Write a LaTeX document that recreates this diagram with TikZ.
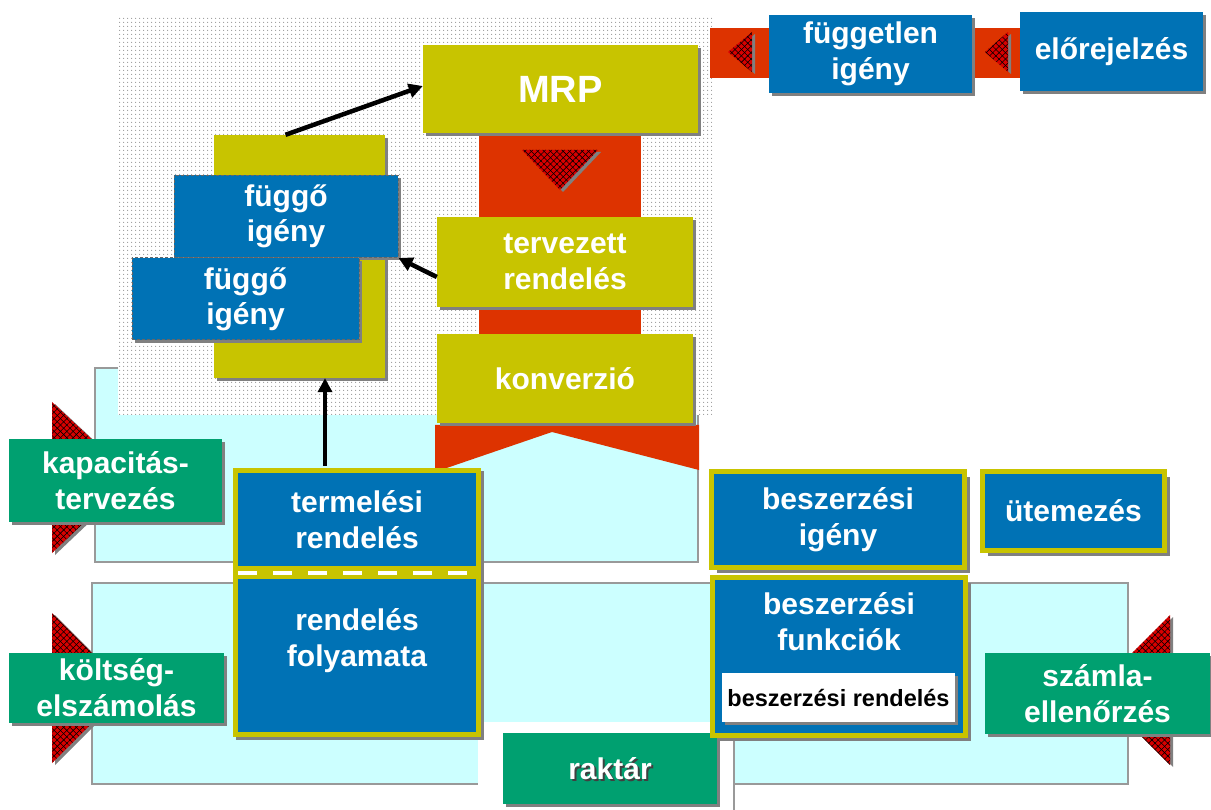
\documentclass[tikz,border=0pt]{standalone}
\usepackage{fontspec}
\setmainfont{Liberation Sans}
\usetikzlibrary{shadows,patterns.meta,arrows.meta}

\definecolor{mblue}{HTML}{0072B5}
\definecolor{molive}{HTML}{C8C400}
\definecolor{mgreen}{HTML}{00A070}
\definecolor{mred}{HTML}{DD3300}
\definecolor{hred}{HTML}{D80000}
\definecolor{lcyan}{HTML}{CCFFFF}
\definecolor{sgray}{HTML}{808080}
\definecolor{bgray}{HTML}{999999}

% hatched triangle with a grey drop shadow
\newcommand{\htri}[3]{%
  \fill[sgray,xshift=3pt,yshift=-2pt] #1 -- #2 -- #3 -- cycle;
  \path[hatch] #1 -- #2 -- #3 -- cycle;}

\begin{document}
\begin{tikzpicture}[x=1pt,y=-1pt,
  lbl/.style={font=\fontsize{30}{36}\selectfont\bfseries, text=white, align=center},
  shd/.style={drop shadow={shadow xshift=3pt,shadow yshift=-3pt,fill=sgray,opacity=1}},
  box/.style={shd, inner sep=0pt, lbl},
  bluebox/.style={box, fill=mblue},
  greenbox/.style={box, fill=mgreen},
  olivebox/.style={box, fill=molive},
  fuggobox/.style={box, fill=mblue, draw=black!60, line width=1pt, dash pattern=on 3pt off 2pt,
    font=\fontsize{30}{35}\selectfont\bfseries},
  framed/.style={inner sep=0pt, lbl, fill=mblue, draw=molive, line width=5pt,
    drop shadow={shadow xshift=5.5pt,shadow yshift=-5.5pt,fill=sgray,opacity=1}},
  plain/.style={inner sep=0pt, fill=mblue},
  hatch/.style={preaction={fill=hred},
    pattern={Lines[angle=45,distance=4.5pt,line width=0.55pt]}, pattern color=black,
    postaction={pattern={Lines[angle=-45,distance=4.5pt,line width=0.55pt]}, pattern color=black}},
  conn/.style={draw=black, line width=4.5pt, -{Triangle[length=14pt,width=14pt]}},
  area/.style={fill=lcyan, draw=bgray, line width=1.5pt}
]
\useasboundingbox (0,0) rectangle (1211,810);
\fill[white] (0,0) rectangle (1211,810);

% light cyan working areas
\path[area] (95,368) rectangle (698,562);
\path[area] (92,583) rectangle (1128,784);
\fill[white] (478,722) rectangle (733,811);
\draw[bgray, line width=1.5pt] (734,722) -- (734,810);

% dotted planning area
\fill[white] (118,18) rectangle (712,415);
\fill[pattern={Dots[radius=0.75pt,distance=4pt]}, pattern color=black!40] (118,18) rectangle (712,415);

% red flow bands
\fill[mred] (710,28) rectangle (1020,78);
\fill[mred] (479,133) rectangle (641,430);
\fill[mred] (435,425) -- (699,425) -- (699,470) -- (552,432) -- (435,472) -- cycle;

% hatched direction triangles
\htri{(752,32)}{(752,72)}{(728,52)}
\htri{(1008,32)}{(1008,72)}{(985,52)}
\htri{(522,150)}{(598,150)}{(560,190)}
\htri{(52,402)}{(52,553)}{(132,477)}
\htri{(52,613)}{(52,763)}{(127,688)}
\htri{(1170,615)}{(1170,765)}{(1095,690)}

% top right: forecast and independent demand
\node[bluebox, minimum width=203, minimum height=78] (fuggetlen) at (870.5,54) {független\\igény};
\node[bluebox, minimum width=183, minimum height=79] (elorejelzes) at (1111.5,51.5) {előrejelzés};

% MRP column
\node[olivebox, minimum width=275, minimum height=88, font=\fontsize{38}{44}\selectfont\bfseries] (mrp) at (560.5,89) {MRP};
\node[olivebox, minimum width=256, minimum height=90] (tervezett) at (565,262) {tervezett\\rendelés};
\node[olivebox, minimum width=256, minimum height=89] (konverzio) at (565,378.5) {konverzió};

% dependent demand stack
\node[olivebox, minimum width=171, minimum height=243] (fuggoback) at (299.5,256.5) {};
\node[fuggobox, minimum width=224, minimum height=82] (fuggo1) at (286,216.5) {függő\\igény};
\node[fuggobox, minimum width=227, minimum height=82] (fuggo2) at (245.5,299) {függő\\igény};

% side functions
\node[greenbox, minimum width=213, minimum height=83] (kapacitas) at (115.5,480.5) {kapacitás-\\tervezés};
\node[greenbox, minimum width=215, minimum height=70] (koltseg) at (116.5,688) {költség-\\elszámolás};
\node[greenbox, minimum width=225, minimum height=81] (szamla) at (1097.5,693.5) {számla-\\ellenőrzés};
\node[greenbox, minimum width=214, minimum height=71] (raktar) at (610,768.5) {};
\node[lbl, text=black!75] (raktarshade) at (612,770.5) {raktár};
\node[lbl] (raktarlbl) at (610,768.5) {raktár};

% production order
\node[olivebox, minimum width=248, minimum height=269] (termframe) at (357,602.5) {};
\node[plain, lbl, minimum width=238, minimum height=93] (termelesi) at (357,519.5) {termelési\\rendelés};
\node[plain, minimum width=238, minimum height=153] (folyamat) at (357,655.5) {};
\node[lbl] (folyamatlbl) at (357,640.5) {rendelés\\folyamata};
\draw[white, line width=4pt, dash pattern=on 19pt off 16pt] (termelesi.south west) ++(0,7) -- ++(238,0);

% purchasing
\node[framed, minimum width=253, minimum height=96] (beszigeny) at (838,519.5) {beszerzési\\igény};
\node[framed, minimum width=182, minimum height=79] (utemezes) at (1073.5,511) {ütemezés};
\node[framed, minimum width=253, minimum height=158] (beszfunk) at (839,656.5) {};
\node[lbl] (beszfunklbl) at (839,621.5) {beszerzési\\funkciók};
\node[shd, fill=white, inner sep=0pt, minimum width=233, minimum height=49,
  font=\fontsize{23.5}{28}\selectfont\bfseries] (beszrend) at (838.5,697.5) {beszerzési rendelés};

% information flow
\draw[conn] ([xshift=-14pt]fuggoback.north) -- ([yshift=3pt]mrp.west);
\draw[conn] ([yshift=-15pt]tervezett.west) -- (fuggo1.south east);
\draw[conn] ([xshift=-32pt,yshift=2pt]termframe.north) -- ([xshift=25.5pt]fuggoback.south);
\end{tikzpicture}
\end{document}
